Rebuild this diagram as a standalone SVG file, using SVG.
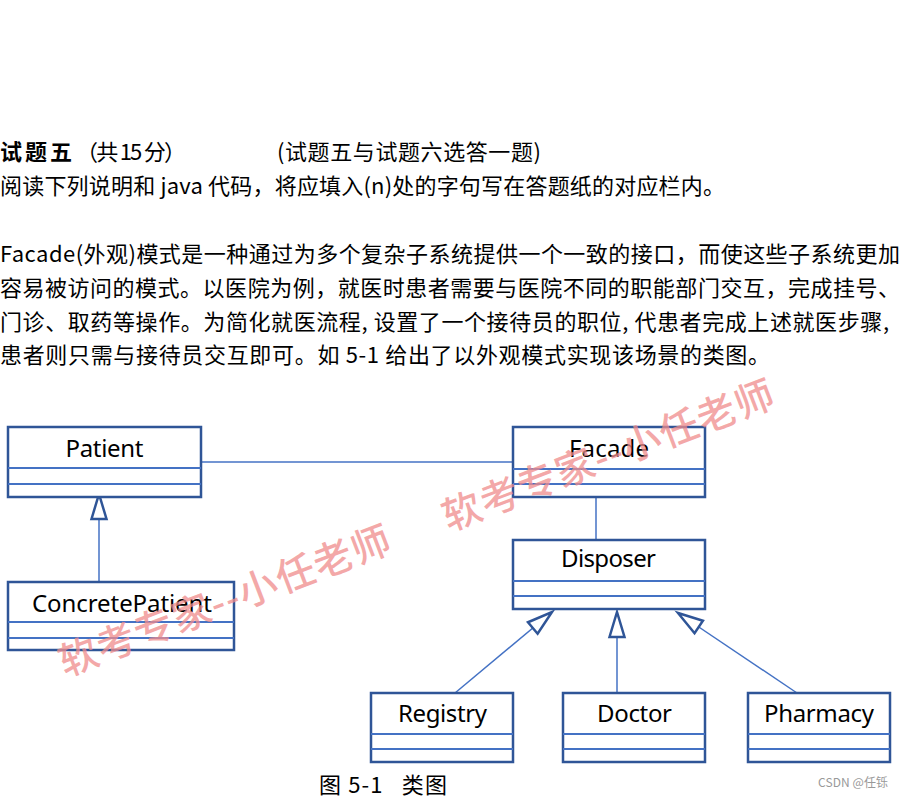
<svg xmlns="http://www.w3.org/2000/svg" width="902" height="798" viewBox="0 0 902 798">
<style>
.t{font-family:"Noto Sans CJK SC","Noto Sans",sans-serif;font-size:22px;fill:#000}
.b{font-weight:bold}
.box{fill:#fff;stroke:#2F5597;stroke-width:2.5}
.sep{stroke:#4472C4;stroke-width:2;fill:none}
.lbl{font-family:"Noto Sans","Noto Sans CJK SC",sans-serif;font-size:24px;fill:#000;text-anchor:middle}
.conn{stroke:#4472C4;stroke-width:1.5;fill:none}
.wm{font-family:"Noto Sans CJK SC",sans-serif;font-size:39px;font-weight:500;fill:#f08c8c;fill-opacity:0.75;text-anchor:middle;dominant-baseline:central}
</style>
<defs>
<marker id="gen" markerUnits="userSpaceOnUse" markerWidth="30" markerHeight="20" viewBox="0 0 30 20" refX="27" refY="10" orient="auto" overflow="visible">
<path d="M2,2.5 L27,10 L2,17.5 Z" fill="#fff" stroke="#2F5597" stroke-width="2.5" stroke-linejoin="miter"/>
</marker>
</defs>
<rect width="902" height="798" fill="#fff"/>
<g id="header">
<text class="t b" x="0" y="160" textLength="72">试题五</text>
<text class="t" x="76" y="160" textLength="110" xml:space="preserve">（共 15 分）</text>
<text class="t" x="277" y="160" textLength="264">(试题五与试题六选答一题)</text>
<text class="t" x="0" y="194" textLength="725">阅读下列说明和 java 代码，将应填入(n)处的字句写在答题纸的对应栏内。</text>
<text class="t" x="0" y="262" textLength="900">Facade(外观)模式是一种通过为多个复杂子系统提供一个一致的接口，而使这些子系统更加</text>
<text class="t" x="0" y="296" textLength="900">容易被访问的模式。以医院为例，就医时患者需要与医院不同的职能部门交互，完成挂号、</text>
<text class="t" x="0" y="330" textLength="889">门诊、取药等操作。为简化就医流程, 设置了一个接待员的职位, 代患者完成上述就医步骤,</text>
<text class="t" x="0" y="363" textLength="770">患者则只需与接待员交互即可。如 5-1 给出了以外观模式实现该场景的类图。</text>
</g>
<g id="connectors">
<line class="conn" x1="201" y1="462" x2="513" y2="462"/>
<line class="conn" x1="596" y1="497" x2="596" y2="540"/>
<line class="conn" x1="99" y1="582" x2="99" y2="494" marker-end="url(#gen)"/>
<line class="conn" x1="455" y1="693" x2="552" y2="612" marker-end="url(#gen)"/>
<line class="conn" x1="617" y1="693" x2="617" y2="612" marker-end="url(#gen)"/>
<line class="conn" x1="797" y1="693" x2="678" y2="613" marker-end="url(#gen)"/>
</g>
<g id="Patient">
<rect class="box" x="8" y="427" width="193" height="70"/>
<line class="sep" x1="8" y1="468" x2="201" y2="468"/>
<line class="sep" x1="8" y1="484" x2="201" y2="484"/>
<text class="lbl" x="104.5" y="457" textLength="78">Patient</text>
</g>
<g id="ConcretePatient">
<rect class="box" x="8" y="582" width="226" height="68"/>
<line class="sep" x1="8" y1="622" x2="234" y2="622"/>
<line class="sep" x1="8" y1="638" x2="234" y2="638"/>
<text class="lbl" x="122" y="612" textLength="180">ConcretePatient</text>
</g>
<g id="Facade">
<rect class="box" x="513" y="427" width="192" height="70"/>
<line class="sep" x1="513" y1="469" x2="705" y2="469"/>
<line class="sep" x1="513" y1="484" x2="705" y2="484"/>
<text class="lbl" x="609" y="457" textLength="80">Facade</text>
</g>
<g id="Disposer">
<rect class="box" x="513" y="540" width="192" height="69"/>
<line class="sep" x1="513" y1="581" x2="705" y2="581"/>
<line class="sep" x1="513" y1="596" x2="705" y2="596"/>
<text class="lbl" x="608.5" y="567" textLength="95">Disposer</text>
</g>
<g id="Registry">
<rect class="box" x="371" y="693" width="142" height="69"/>
<line class="sep" x1="371" y1="734" x2="513" y2="734"/>
<line class="sep" x1="371" y1="749" x2="513" y2="749"/>
<text class="lbl" x="442.5" y="722" textLength="89">Registry</text>
</g>
<g id="Doctor">
<rect class="box" x="563" y="693" width="142" height="69"/>
<line class="sep" x1="563" y1="734" x2="705" y2="734"/>
<line class="sep" x1="563" y1="749" x2="705" y2="749"/>
<text class="lbl" x="634.5" y="722" textLength="75">Doctor</text>
</g>
<g id="Pharmacy">
<rect class="box" x="748" y="693" width="142" height="69"/>
<line class="sep" x1="748" y1="734" x2="890" y2="734"/>
<line class="sep" x1="748" y1="749" x2="890" y2="749"/>
<text class="lbl" x="819" y="722" textLength="110">Pharmacy</text>
</g>
<g id="caption">
<text class="t" x="319" y="793" font-size="21" textLength="128" xml:space="preserve">图 5-1   类图</text>
<text x="818" y="787" font-family="'Noto Sans CJK SC',sans-serif" font-size="12" fill="#999" textLength="70">CSDN @任铄</text>
</g>
<g id="watermark">
<text class="wm" transform="translate(223.5,598) rotate(-21)" x="0" y="0" textLength="352">软考专家--小任老师</text>
<text class="wm" transform="translate(607,452.5) rotate(-21)" x="0" y="0" textLength="352">软考专家--小任老师</text>
</g>
</svg>
